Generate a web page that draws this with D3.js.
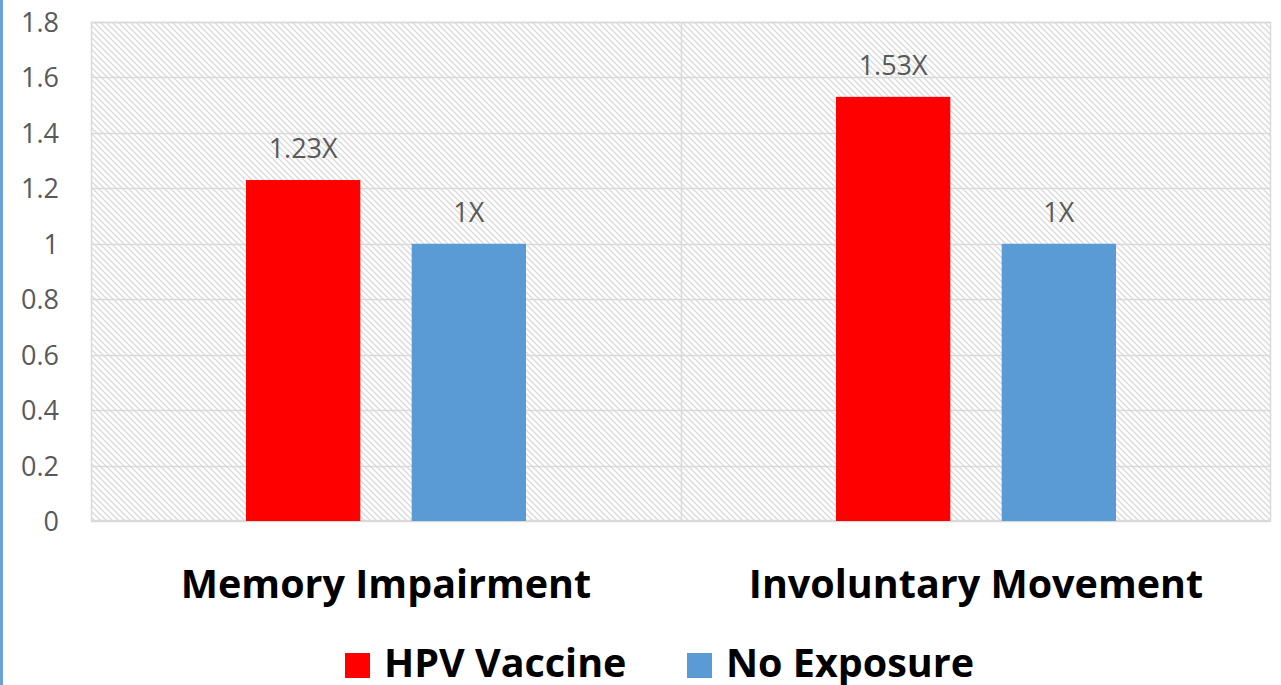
<!DOCTYPE html>
<html lang="en">
<head>
    <meta charset="UTF-8">
    <title>HPV Vaccine chart</title>
    <script src="https://d3js.org/d3.v7.min.js"></script>
    <style>
        body { margin: 0; background: #fff; }
        svg { display: block; }
    </style>
</head>
<body>
<svg id="viz"></svg>

<script>
    // chart data
    var categories = ['Memory Impairment', 'Involuntary Movement'];
    var seriesNames = ['HPV Vaccine', 'No Exposure'];
    var hpvValues = [1.23, 1.53];
    var noExposureValues = [1, 1];
    var valueLabels = [['1.23X', '1X'], ['1.53X', '1X']];
    var yTicks = [0, 0.2, 0.4, 0.6, 0.8, 1, 1.2, 1.4, 1.6, 1.8];
    var colors = ['#ff0000', '#5b9bd5'];

    var width = 1281, height = 685;
    var plotLeft = 91, plotRight = 1271, plotTop = 22, plotBottom = 521;

    var svg = d3.select('#viz')
        .attr('width', width)
        .attr('height', height);

    // hatch pattern for the plot background
    var defs = svg.append('defs');
    var pat = defs.append('pattern')
        .attr('id', 'hatch')
        .attr('patternUnits', 'userSpaceOnUse')
        .attr('width', 6)
        .attr('height', 6);
    pat.append('path')
        .attr('d', 'M0,0 L6,6 M-3,3 L3,9 M3,-3 L9,3')
        .attr('stroke', '#dadada')
        .attr('stroke-width', 1.4);

    // blue edge on the left
    svg.append('rect')
        .attr('x', 0).attr('y', 0)
        .attr('width', 3).attr('height', height)
        .attr('fill', '#6a9fd8');

    var x = d3.scaleBand()
        .domain(categories)
        .range([plotLeft, plotRight]);

    var xInner = d3.scaleBand()
        .domain(seriesNames)
        .range([155, 435])
        .paddingInner(0.31);

    var y = d3.scaleLinear()
        .domain([0, 1.8])
        .range([plotBottom, plotTop]);

    svg.append('rect')
        .attr('x', plotLeft).attr('y', plotTop)
        .attr('width', plotRight - plotLeft).attr('height', plotBottom - plotTop)
        .attr('fill', 'url(#hatch)');

    // gridlines
    svg.selectAll('.grid')
        .data(yTicks)
        .enter()
        .append('line')
        .attr('class', 'grid')
        .attr('x1', plotLeft).attr('x2', plotRight)
        .attr('y1', function (d) { return Math.round(y(d)) + 0.5; })
        .attr('y2', function (d) { return Math.round(y(d)) + 0.5; })
        .attr('stroke', '#d9d9d9')
        .attr('stroke-width', 1.5);

    // category dividers and border
    svg.append('rect')
        .attr('x', plotLeft + 0.5).attr('y', plotTop + 0.5)
        .attr('width', plotRight - plotLeft - 1).attr('height', plotBottom - plotTop - 1)
        .attr('fill', 'none')
        .attr('stroke', '#d9d9d9')
        .attr('stroke-width', 1.5);
    svg.append('line')
        .attr('x1', x(categories[1]) + 0.5).attr('x2', x(categories[1]) + 0.5)
        .attr('y1', plotTop).attr('y2', plotBottom)
        .attr('stroke', '#d9d9d9')
        .attr('stroke-width', 1.5);

    // y axis labels
    var yAxis = d3.axisLeft(y)
        .tickValues(yTicks)
        .tickSize(0)
        .tickPadding(0)
        .tickFormat(d3.format('~g'));
    var yg = svg.append('g')
        .attr('transform', 'translate(59,0)')
        .call(yAxis);
    yg.select('.domain').remove();
    yg.selectAll('text')
        .attr('fill', '#595959')
        .attr('font-family', '"Open Sans", sans-serif')
        .attr('font-size', 27)
        .attr('dy', '0.35em');

    // bars
    var rows = categories.map(function (c, i) {
        return {
            cat: c,
            vals: [hpvValues[i], noExposureValues[i]],
            labels: valueLabels[i]
        };
    });

    var groups = svg.selectAll('.cat')
        .data(rows)
        .enter()
        .append('g')
        .attr('class', 'cat')
        .attr('transform', function (d) { return 'translate(' + x(d.cat) + ',0)'; });

    groups.selectAll('rect')
        .data(function (d) {
            return d.vals.map(function (v, j) { return {s: seriesNames[j], v: v, label: d.labels[j], c: colors[j]}; });
        })
        .enter()
        .append('rect')
        .attr('x', function (d) { return xInner(d.s); })
        .attr('y', function (d) { return y(d.v); })
        .attr('width', xInner.bandwidth())
        .attr('height', function (d) { return y(0) - y(d.v); })
        .attr('fill', function (d) { return d.c; });

    groups.selectAll('.vlabel')
        .data(function (d) {
            return d.vals.map(function (v, j) { return {s: seriesNames[j], v: v, label: d.labels[j]}; });
        })
        .enter()
        .append('text')
        .attr('class', 'vlabel')
        .attr('x', function (d) { return xInner(d.s) + xInner.bandwidth() / 2; })
        .attr('y', function (d) { return y(d.v) - 22; })
        .attr('text-anchor', 'middle')
        .attr('fill', '#595959')
        .attr('font-family', '"Open Sans", sans-serif')
        .attr('font-size', 27)
        .text(function (d) { return d.label; });

    // category labels
    svg.selectAll('.catlabel')
        .data(categories)
        .enter()
        .append('text')
        .attr('class', 'catlabel')
        .attr('x', function (d) { return x(d) + x.bandwidth() / 2; })
        .attr('y', 598)
        .attr('text-anchor', 'middle')
        .attr('fill', '#000')
        .attr('font-family', '"Open Sans", sans-serif')
        .attr('font-weight', 'bold')
        .attr('font-size', 39.5)
        .text(function (d) { return d; });

    // legend
    var legendX = [345, 687];
    var legend = svg.selectAll('.legend')
        .data(seriesNames)
        .enter()
        .append('g')
        .attr('class', 'legend')
        .attr('transform', function (d, i) { return 'translate(' + legendX[i] + ',0)'; });
    legend.append('rect')
        .attr('x', 0).attr('y', 653)
        .attr('width', 25).attr('height', 25)
        .attr('fill', function (d, i) { return colors[i]; });
    legend.append('text')
        .attr('x', 39).attr('y', 677)
        .attr('fill', '#000')
        .attr('font-family', '"Open Sans", sans-serif')
        .attr('font-weight', 'bold')
        .attr('font-size', 39.5)
        .text(function (d) { return d; });
</script>
</body>
</html>
